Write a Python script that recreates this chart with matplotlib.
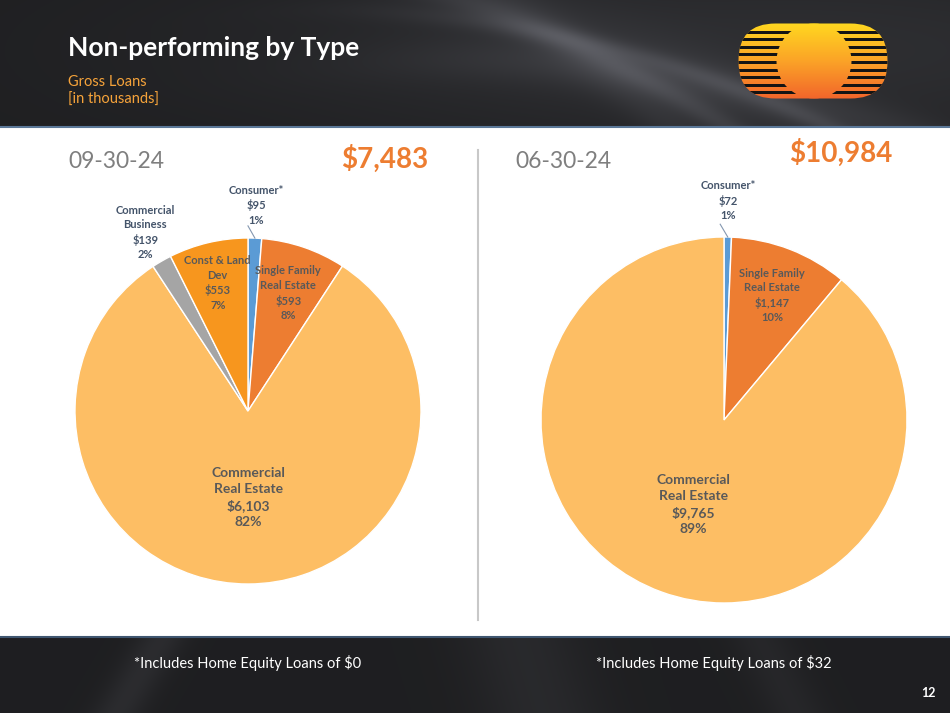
import numpy as np
import matplotlib
matplotlib.use('Agg')
import matplotlib.pyplot as plt
from matplotlib.patches import Rectangle, FancyBboxPatch, Circle
from matplotlib.colors import LinearSegmentedColormap

plt.rcParams['font.family'] = ['Lato', 'DejaVu Sans']

# datos de los dos cortes
dates = ['09-30-24', '06-30-24']
categories_sep = ['Consumer*', 'Single Family\nReal Estate', 'Commercial\nReal Estate',
                  'Commercial\nBusiness', 'Const & Land\nDev']
values_sep = [95, 593, 6103, 139, 553]
categories_jun = ['Consumer*', 'Single Family\nReal Estate', 'Commercial\nReal Estate']
values_jun = [72, 1147, 9765]
footnotes = ['*Includes Home Equity Loans of $0', '*Includes Home Equity Loans of $32']

colors = {
    'Consumer*': '#5B9BD5',
    'Single Family\nReal Estate': '#ED7D31',
    'Commercial\nReal Estate': '#FDBE64',
    'Commercial\nBusiness': '#A5A5A5',
    'Const & Land\nDev': '#F7961E',
}
# distancia radial de cada etiqueta (estilo)
label_r_sep = [1.19, 0.72, 0.50, 1.19, 0.76]
label_r_jun = [1.20, 0.73, 0.49]

W, H = 950, 713
fig = plt.figure(figsize=(W / 100, H / 100), dpi=100)

# fondo oscuro con curvas suaves
ax_bg = fig.add_axes([0, 0, 1, 1])
ax_bg.set_xlim(0, W)
ax_bg.set_ylim(H, 0)
ax_bg.axis('off')
X, Y = np.meshgrid(np.arange(W), np.arange(H))
v = 0.12 + 0.06 * np.exp(-((X - 780) ** 2 / 3e5 + (Y - 50) ** 2 / 1e4))
fade = 1 / (1 + np.exp(-(X - 420) / 60))
for a, b, c, w, amp in [(-40, 0.0012, 600, 14, 0.07), (10, 0.0009, 720, 10, 0.06),
                        (60, 0.0007, 850, 22, 0.05), (-120, 0.0015, 500, 28, 0.04),
                        (-20, 0.0010, 650, 40, 0.03)]:
    curve = a + b * (X - c + 400) ** 2 * 0.5
    v += amp * np.exp(-((Y - curve) / w) ** 2) * fade
v += 0.05 * np.exp(-((X - 160 + (Y - 640) * 0.6) / 25) ** 2) * (Y > 630)
v += 0.04 * np.exp(-((X - 520 - (Y - 640) * 0.3) / 60) ** 2) * (Y > 630)
v += 0.03 * np.exp(-((X - 760 - (Y - 640) * 0.5) / 30) ** 2) * (Y > 630)
rgb = np.clip(np.dstack([v, v * 1.01, v * 1.08]), 0, 1)
ax_bg.imshow(rgb, extent=(0, W, H, 0), aspect='auto', zorder=0)

# panel blanco
ax_bg.add_patch(Rectangle((0, 127), W, 510, facecolor='white', edgecolor='none', zorder=1))
ax_bg.plot([0, W], [127, 127], color='#5B7898', lw=1.5, zorder=2)
ax_bg.plot([0, W], [637, 637], color='#3F5670', lw=1.5, zorder=2)
ax_bg.plot([478, 478], [150, 620], color='#C8C8C8', lw=1.5, zorder=2)

# textos de cabecera
ax_bg.text(68, 48, 'Non-performing by Type', fontsize=19, weight='bold', color='white',
           va='center', zorder=3)
ax_bg.text(68, 82, 'Gross Loans', fontsize=10.5, color='#F6A33A', va='center', zorder=3)
ax_bg.text(68, 100, '[in thousands]', fontsize=10.5, color='#F6A33A', va='center', zorder=3)

ax_bg.text(68, 161, dates[0], fontsize=16.5, color='#7F7F7F', va='center', zorder=3)
ax_bg.text(515, 161, dates[1], fontsize=16.5, color='#7F7F7F', va='center', zorder=3)
ax_bg.text(428, 159, f'${sum(values_sep):,}', fontsize=20, weight='bold', color='#ED7D31',
           ha='right', va='center', zorder=3)
ax_bg.text(892, 153, f'${sum(values_jun):,}', fontsize=20, weight='bold', color='#ED7D31',
           ha='right', va='center', zorder=3)

ax_bg.text(248, 663, footnotes[0], fontsize=10.5, color='white', ha='center', va='center', zorder=3)
ax_bg.text(714, 663, footnotes[1], fontsize=10.5, color='white', ha='center', va='center', zorder=3)
ax_bg.text(936, 693, '12', fontsize=9, weight='bold', color='white', ha='right', va='center', zorder=3)


def draw_pie(rect, cats, vals, label_r):
    ax = fig.add_axes(rect)
    total = sum(vals)
    wedges, _ = ax.pie(vals, colors=[colors[c] for c in cats], startangle=90,
                       counterclock=False, radius=1,
                       wedgeprops=dict(edgecolor='white', linewidth=1))
    ax.set_xlim(-1, 1)
    ax.set_ylim(-1, 1)
    ax.axis('off')
    for w, cat, val, r in zip(wedges, cats, vals, label_r):
        ang = np.deg2rad((w.theta1 + w.theta2) / 2)
        big = cat == 'Commercial\nReal Estate'
        outside = r > 1
        txt = f'{cat}\n${val:,}\n{val / total * 100:.0f}%'
        ax.text(r * np.cos(ang), r * np.sin(ang), txt, ha='center', va='center',
                fontsize=10 if big else 8, weight='bold', linespacing=1.4 if big else 1.38,
                color='#44546A' if outside else '#595959', clip_on=False)
        if cat == 'Consumer*':
            ax.plot([1.0 * np.cos(ang), 1.07 * np.cos(ang + 0.04)],
                    [1.0 * np.sin(ang), 1.07 * np.sin(ang + 0.04)],
                    color='#8497B0', lw=0.8, clip_on=False)
    return ax


# pie 1: centro (248, 411), radio 173 px ; pie 2: centro (724, 420), radio 183 px
draw_pie([75 / W, (H - 411 - 173) / H, 346 / W, 346 / H], categories_sep, values_sep, label_r_sep)
draw_pie([541 / W, (H - 420 - 183) / H, 366 / W, 366 / H], categories_jun, values_jun, label_r_jun)

# logo
ax_logo = fig.add_axes([738 / W, (H - 99) / H, 150 / W, 76 / H])
ax_logo.set_xlim(0, 150)
ax_logo.set_ylim(0, 76)
ax_logo.axis('off')
cmap = LinearSegmentedColormap.from_list('sun', ['#FFD820', '#FBA327', '#F2652B'])
grad = np.linspace(0, 1, 256)[:, None]
outer = FancyBboxPatch((0.5, 0.5), 149, 75, boxstyle='round,pad=0,rounding_size=37',
                       facecolor='none', edgecolor='none')
ax_logo.add_patch(outer)
im = ax_logo.imshow(grad, cmap=cmap, extent=(0, 150, 0, 76), aspect='auto', zorder=1)
im.set_clip_path(outer)
for yt in np.arange(68.5, 0, -7.6):
    bar = Rectangle((0, yt - 3), 150, 3, facecolor='#141414', edgecolor='none', zorder=2)
    ax_logo.add_patch(bar)
    bar.set_clip_path(outer)
disc = Circle((76, 38), 37.5, facecolor='none', edgecolor='none')
ax_logo.add_patch(disc)
im2 = ax_logo.imshow(grad, cmap=cmap, extent=(0, 150, 0, 76), aspect='auto', zorder=3)
im2.set_clip_path(disc)

plt.savefig('out.png', dpi=100)
plt.close()
